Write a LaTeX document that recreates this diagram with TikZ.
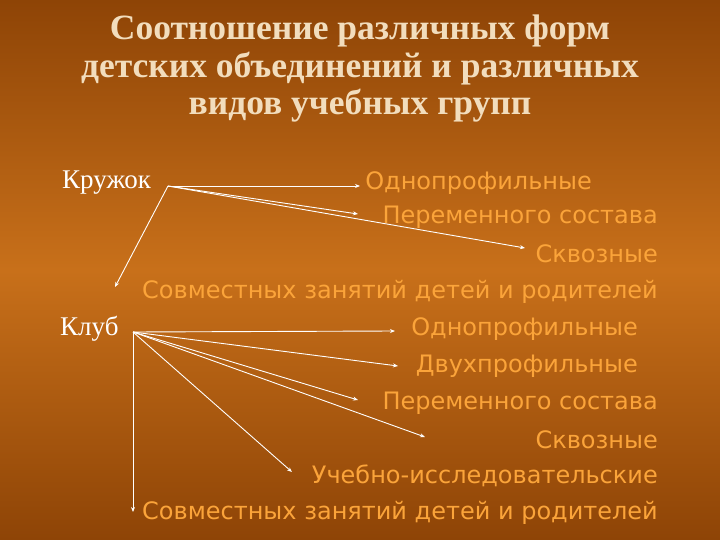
\documentclass[tikz,border=0pt]{standalone}
\usepackage{fontspec}
\setmainfont{Liberation Serif}
\newfontfamily\itemfont{DejaVu Sans}
\usetikzlibrary{arrows.meta}
\definecolor{bgdark}{HTML}{8E4406}
\definecolor{bglight}{HTML}{C8701A}
\definecolor{itemcol}{HTML}{FBA43A}
\definecolor{titlecol}{HTML}{F2DDBD}
\begin{document}
\begin{tikzpicture}[x=1pt,y=-1pt,
  item/.style={anchor=east,inner sep=0pt,text=itemcol,font=\itemfont\fontsize{24}{26}\selectfont},
  lab/.style={inner sep=0pt,text=white,font=\fontsize{27}{30}\selectfont},
  arr/.style={draw=white,line width=0.9pt,-{Stealth[length=5pt,width=4pt]}}]
\shade[top color=bgdark,bottom color=bgdark,middle color=bglight] (0,0) rectangle (720,540);
\useasboundingbox (0,0) rectangle (720,540);
\node[text=titlecol,font=\bfseries\fontsize{35.5}{37.5}\selectfont,align=center] (title) at (360,69)
  {Соотношение различных форм\\детских объединений и различных\\видов учебных групп};
\node[lab,anchor=west] (kr) at (62,183) {Кружок};
\node[lab,anchor=west] (kl) at (60,329) {Клуб};
\coordinate (k) at (168,186);
\coordinate (c) at (133,332);
\node[item] (a1) at (592,183) {Однопрофильные};
\node[item] (a2) at (658,217) {Переменного состава};
\node[item] (a3) at (658,254) {Сквозные};
\node[item] (a4) at (658,292) {Совместных занятий детей и родителей};
\node[item] (b1) at (638,329) {Однопрофильные};
\node[item] (b2) at (638,366) {Двухпрофильные};
\node[item] (b3) at (658,403) {Переменного состава};
\node[item] (b4) at (658,440) {Сквозные};
\node[item] (b5) at (658,476) {Учебно-исследовательские};
\node[item] (b6) at (658,513) {Совместных занятий детей и родителей};
\coordinate (t1) at (360,186);
\coordinate (t2) at (358,214);
\coordinate (t3) at (525,248);
\coordinate (t4) at (115,287);
\draw[arr] (k) -- (t1);
\draw[arr] (k) -- (t2);
\draw[arr] (k) -- (t3);
\draw[arr] (k) -- (t4);
\coordinate (u1) at (395,331);
\coordinate (u2) at (398,366);
\coordinate (u3) at (358,400);
\coordinate (u4) at (425,437);
\coordinate (u5) at (292,472);
\coordinate (u6) at (133,512);
\foreach \u in {u1,u2,u3,u4,u5,u6} \draw[arr] (c) -- (\u);
\end{tikzpicture}
\end{document}
